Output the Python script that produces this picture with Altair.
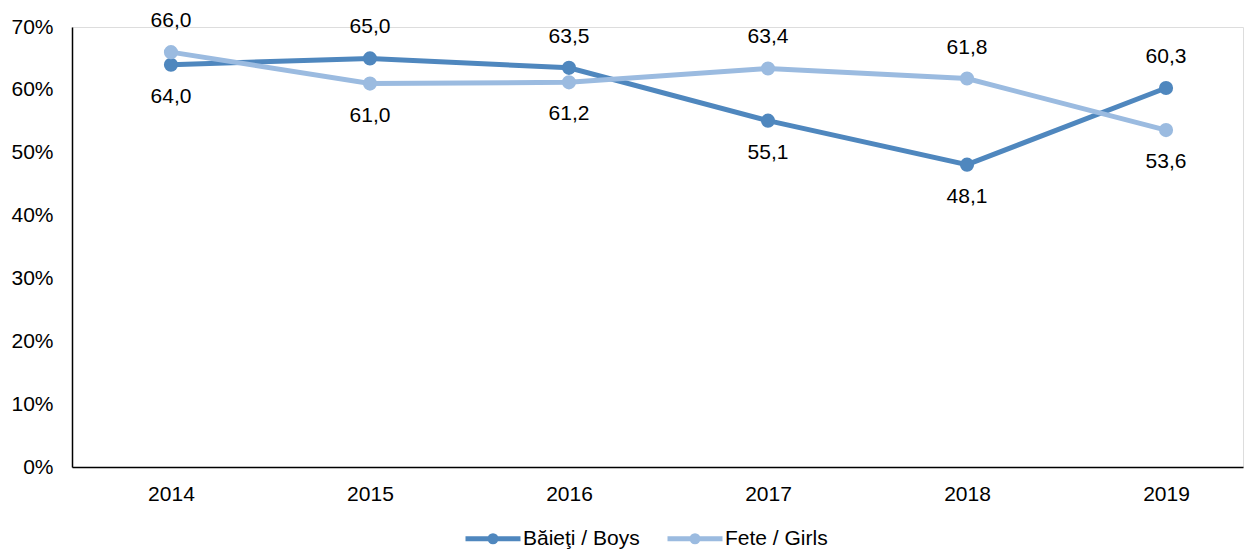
import altair as alt
import pandas as pd

years = ["2014", "2015", "2016", "2017", "2018", "2019"]
boys = [64.0, 65.0, 63.5, 55.1, 48.1, 60.3]
girls = [66.0, 61.0, 61.2, 63.4, 61.8, 53.6]
series_names = ["Băieţi / Boys", "Fete / Girls"]
series_colors = ["#4F87BE", "#9BBBE0"]
y_ticks = [0, 10, 20, 30, 40, 50, 60, 70]

rows = []
for i, yr in enumerate(years):
    for name, vals, other in ((series_names[0], boys, girls), (series_names[1], girls, boys)):
        rows.append({
            "year": yr,
            "series": name,
            "value": vals[i],
            "label": f"{vals[i]:.1f}".replace(".", ","),
            "higher": vals[i] >= other[i],
        })
df = pd.DataFrame(rows)

FONT = "Liberation Sans"
FS = 21
W, H = 1171, 440

legend_path = "M-1,0H4.5M2.05,0A0.3,0.3 0 1,1 1.45,0A0.3,0.3 0 1,1 2.05,0Z"

x_enc = alt.X(
    "year:N",
    sort=years,
    scale=alt.Scale(padding=0.442, align=0.5625),
    axis=alt.Axis(
        title=None, labelAngle=0, ticks=False, tickSize=0, grid=False,
        domainColor="#000000", domainWidth=1.5, labelFontSize=FS,
        labelColor="#000000", labelFont=FONT, labelPadding=16,
    ),
)
y_enc = alt.Y(
    "value:Q",
    scale=alt.Scale(domain=[0, 70], nice=False),
    axis=alt.Axis(
        title=None, values=y_ticks, labelExpr="datum.value + '%'", ticks=False,
        tickSize=0, grid=False, domainColor="#000000", domainWidth=1.5,
        labelFontSize=FS, labelColor="#000000", labelFont=FONT, labelPadding=19,
    ),
)
color_scale = alt.Scale(domain=series_names, range=series_colors)

base = alt.Chart(df).encode(x=x_enc, y=y_enc)

legend = alt.Legend(
    title=None, orient="none", direction="horizontal",
    legendX=391, legendY=499,
    symbolType=legend_path, symbolSize=400, symbolStrokeWidth=5,
    symbolOpacity=1,
    labelFontSize=FS, labelFont=FONT, labelColor="#000000",
    labelOffset=35, columnPadding=17,
)

lines = base.mark_line(strokeWidth=5).encode(
    color=alt.Color("series:N", scale=color_scale, sort=series_names, legend=legend)
)
points = base.mark_point(filled=True, size=200, opacity=1).encode(
    color=alt.Color("series:N", scale=color_scale, sort=series_names, legend=legend)
)
labels_above = base.mark_text(dy=-31, fontSize=FS, font=FONT, color="#000000").encode(
    text="label:N"
).transform_filter("datum.higher")
labels_below = base.mark_text(dy=32, fontSize=FS, font=FONT, color="#000000").encode(
    text="label:N"
).transform_filter("!datum.higher")

chart = alt.layer(lines, points, labels_above, labels_below).properties(
    width=W, height=H,
    autosize=alt.AutoSizeParams(type="none"),
    padding={"left": 64, "top": 19, "right": 2, "bottom": 84},
).configure_view(stroke=None).configure(background="white")

chart.save("out.html", embed_options={"renderer": "svg", "actions": False})
